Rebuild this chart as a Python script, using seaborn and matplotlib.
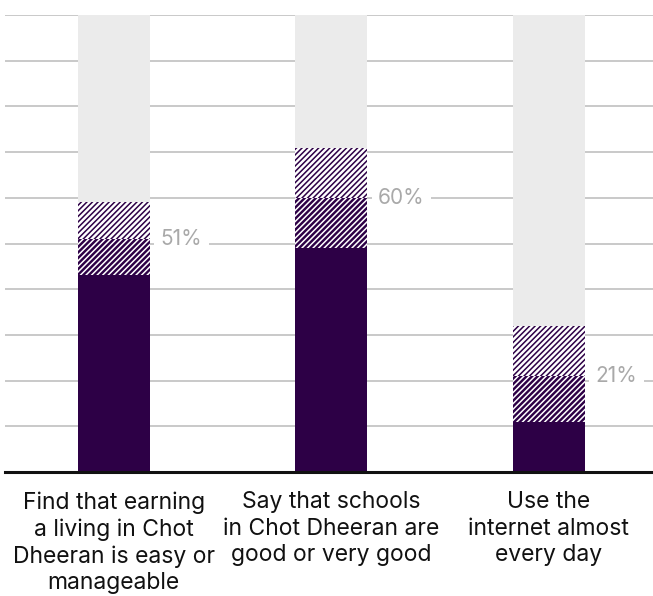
import matplotlib
matplotlib.use("Agg")
import matplotlib.pyplot as plt
import seaborn as sns
import pandas as pd

categories = [
    "Find that earning\na living in Chot\nDheeran is easy or\nmanageable",
    "Say that schools\nin Chot Dheeran are\ngood or very good",
    "Use the\ninternet almost\nevery day",
]
solid_values = [43, 49, 11]        # solid dark segment (top)
dark_hatch_values = [51, 60, 21]   # cumulative top of dark hatched segment (labelled)
light_hatch_values = [59, 71, 32]  # cumulative top of light hatched segment
full_values = [100, 100, 100]
value_labels = ["51%", "60%", "21%"]

PURPLE = "#2d0046"
GRAY_BG = "#ebebeb"
GRID = "#c9c9c9"
LABEL_GRAY = "#a9a9a9"

sns.set_theme(style="white")
plt.rcParams["font.family"] = ["Inter", "DejaVu Sans"]
plt.rcParams["hatch.linewidth"] = 1.1

fig = plt.figure(figsize=(6.53, 5.96), dpi=100)
ax = fig.add_axes([5 / 653, 124 / 596, 648 / 653, 457 / 596])

df = pd.DataFrame({
    "cat": categories,
    "full": full_values,
    "light": light_hatch_values,
    "dark": dark_hatch_values,
    "solid": solid_values,
})

W = 0.33
layers = [
    ("full", dict(fc=GRAY_BG, ec=GRAY_BG, hatch=None)),
    ("light", dict(fc="white", ec=PURPLE, hatch="//////")),
    ("dark", dict(fc=PURPLE, ec="white", hatch="//////")),
    ("solid", dict(fc=PURPLE, ec=PURPLE, hatch=None)),
]
for col, st in layers:
    n_before = len(ax.patches)
    sns.barplot(data=df, x="cat", y=col, color=st["fc"], width=W, ax=ax,
                saturation=1, zorder=2)
    for p in ax.patches[n_before:]:
        p.set_facecolor(st["fc"])
        p.set_edgecolor(st["ec"])
        p.set_linewidth(0)
        if st["hatch"]:
            p.set_hatch(st["hatch"])

ax.set_ylim(0, 100)
ax.set_xlim(-0.5, 2.48)
ax.set_yticks(range(10, 101, 10))
ax.yaxis.grid(True, color=GRID, linewidth=1.4, zorder=0)
ax.set_axisbelow(True)
ax.tick_params(axis="y", left=False, labelleft=False)
ax.tick_params(axis="x", bottom=False, pad=8, labelsize=16.5, colors="#111111")
for lbl in ax.get_xticklabels():
    lbl.set_linespacing(1.25)
ax.set_xlabel("")
ax.set_ylabel("")
for s in ["top", "right", "left"]:
    ax.spines[s].set_visible(False)
ax.spines["bottom"].set_color("#111111")
ax.spines["bottom"].set_linewidth(2.2)
ax.spines["bottom"].set_zorder(5)

for i, (v, t) in enumerate(zip(dark_hatch_values, value_labels)):
    ax.annotate(t, xy=(i + W / 2, v), xytext=(8, 0), textcoords="offset points",
                ha="left", va="center", fontsize=15, color=LABEL_GRAY, zorder=4,
                bbox=dict(boxstyle="square,pad=0.3", fc="white", ec="none"))

fig.savefig("out.png", dpi=100)
